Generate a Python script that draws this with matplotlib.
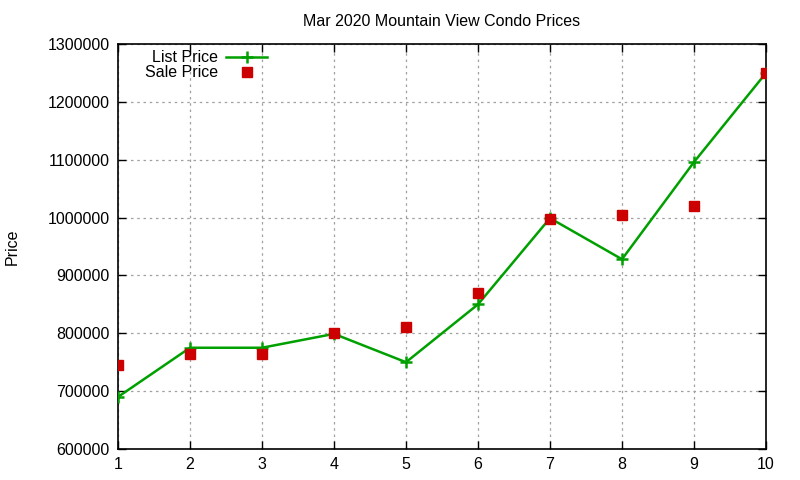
import matplotlib
matplotlib.use('Agg')
import matplotlib.pyplot as plt
from matplotlib.ticker import MultipleLocator, FuncFormatter

plt.rcParams['font.family'] = ['Liberation Sans', 'DejaVu Sans']

# Mar 2020 condo sales, one row per property
listingNumber = [1, 2, 3, 4, 5, 6, 7, 8, 9, 10]
listPrice = [690000, 775000, 775000, 799000, 750000, 850000, 999000, 928000, 1096000, 1250000]
salePrice = [745000, 765000, 765000, 800000, 811000, 870000, 998000, 1005000, 1020000, 1250000]

fig = plt.figure(figsize=(8, 4.8), dpi=100)
ax = fig.add_axes([0.1475, 0.0646, 0.81, 0.8437])

ax.plot(listingNumber, listPrice, color='#00a000', linewidth=1.8, marker='+',
        markersize=8, markeredgewidth=1.8, label='List Price', zorder=3)
ax.plot(listingNumber, salePrice, linestyle='none', color='#cc0000', marker='s',
        markersize=6.5, label='Sale Price', zorder=4)

ax.set_xlim(1, 10)
ax.set_ylim(600000, 1300000)
ax.xaxis.set_major_locator(MultipleLocator(1))
ax.yaxis.set_major_locator(MultipleLocator(100000))
ax.yaxis.set_major_formatter(FuncFormatter(lambda v, p: '%d' % v))
ax.tick_params(direction='in', top=True, right=True, length=6, width=1,
               labelsize=11.5, pad=6)
for s in ax.spines.values():
    s.set_linewidth(1.2)

ax.grid(True, linestyle=(0, (2, 3)), color='#a0a0a0', linewidth=0.9)
ax.set_axisbelow(True)

ax.set_title('Mar 2020 Mountain View Condo Prices', fontsize=11.5, pad=13)
ax.set_ylabel('Price', fontsize=11.5)
ax.yaxis.set_label_coords(-0.152, 0.5)

ax.legend(loc='upper left', bbox_to_anchor=(0.024, 1.012), frameon=False,
          markerfirst=False, fontsize=11.5, handlelength=2.6,
          labelspacing=0.0, handletextpad=0.5, borderaxespad=0.3)

fig.savefig('out.png', dpi=100)
